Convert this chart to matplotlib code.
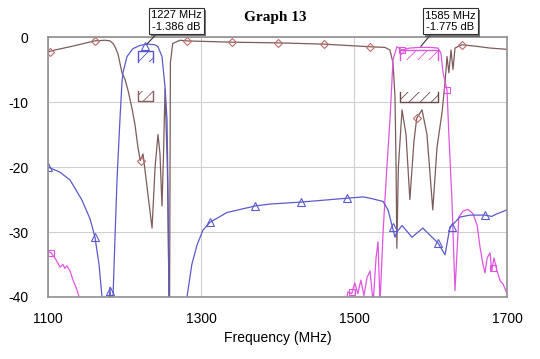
import matplotlib
matplotlib.use("Agg")
import matplotlib.pyplot as plt
from matplotlib.patches import Rectangle
import matplotlib.patheffects as pe

plt.rcParams['font.family'] = ['Liberation Sans', 'DejaVu Sans']
plt.rcParams['axes.unicode_minus'] = False

# blue trace (1227 MHz filter)
blue_f = [1100, 1115.7, 1128.8, 1144, 1155, 1161.4, 1166.7, 1170.6, 1174, 1178.4,
          1181, 1183.7, 1185, 1187.6, 1190.2, 1194, 1196.7, 1198, 1203.3, 1211,
          1220, 1229.4, 1240, 1243.8, 1249, 1253, 1255.6, 1257, 1258, 1260,
          1278, 1281.7, 1288, 1294.8, 1302.6, 1311.8, 1334, 1370.6, 1390, 1430.7,
          1490.9, 1511.8, 1521, 1538, 1544.5, 1549.7, 1553.6, 1556, 1562.8, 1575.8,
          1590, 1609.8, 1619, 1625.5, 1629.4, 1638.6, 1651.6, 1671, 1680, 1687, 1700]
blue_db = [-20.0, -20.8, -22, -25, -28, -30.8, -35, -40, -45, -45,
           -38.5, -45, -40, -30.8, -22, -12.8, -7, -5.5, -3, -1.8,
           -1.3, -1.1, -1.2, -1.5, -3, -7.7, -12.8, -25, -40, -45,
           -45, -40, -35, -32, -29.7, -28.5, -27, -26, -25.7, -25.4,
           -24.8, -24.6, -24.8, -25.3, -26.6, -29, -30.8, -30, -29, -30.8,
           -29.4, -31.7, -33.5, -29.2, -28.8, -27.7, -27.4, -27.4, -27.6, -27.2, -26.6]

# brown trace (reflection)
brown_f = [1100, 1109, 1128.8, 1161, 1174.5, 1181, 1185, 1187.6, 1191.5, 1194,
           1196.7, 1200.6, 1204.6, 1209.8, 1213.7, 1217.6, 1220.6, 1224.2, 1229.4, 1236,
           1240, 1243.8, 1246.4, 1249, 1251, 1253, 1256, 1258.8, 1260, 1263,
           1272.5, 1281.7, 1340.5, 1400.7, 1460.8, 1521, 1540.5, 1547, 1551, 1553.6,
           1555, 1556, 1558, 1562.8, 1568, 1573, 1578.4, 1582, 1588.9, 1595.4,
           1603, 1608.5, 1612.4, 1615, 1619, 1621.6, 1624, 1626.8, 1629.4, 1632,
           1641, 1658, 1677.8, 1700]
brown_db = [-2.3, -2.0, -1.5, -0.6, -0.5, -0.6, -1.0, -1.5, -2.6, -4,
            -5.5, -6.5, -8.2, -11, -13.5, -17, -19, -18, -23, -29.4,
            -20, -15, -18, -26, -18, -8, -20, -45, -4, -1,
            -0.5, -0.6, -0.8, -0.9, -1.1, -1.5, -1.6, -2.0, -4, -9.2,
            -20, -32.5, -20, -11.2, -15, -25, -16, -12.5, -11.2, -15,
            -26.6, -17, -13.8, -11.7, -7, -3, -5.5, -2, -5, -1.7,
            -1.2, -1.4, -1.7, -1.9]

# magenta trace (1585 MHz filter)
mag_f = [1100, 1104, 1109, 1113, 1115.7, 1119.6, 1122, 1124.8, 1128.8, 1132.7,
         1136.6, 1139.2, 1143, 1489.6, 1492, 1497, 1501, 1505, 1509, 1513,
         1517, 1521, 1525, 1528.8, 1531.4, 1534, 1538, 1540.5, 1543, 1547,
         1551, 1556, 1562.8, 1573, 1586, 1599, 1609.8, 1613.7, 1616.4, 1621.6,
         1624, 1628, 1632, 1634.7, 1637, 1642.5, 1649, 1655.6, 1661, 1664.7,
         1668.6, 1671.3, 1674, 1677.8, 1680, 1683, 1687, 1691, 1694.8, 1700]
mag_db = [-33, -33.2, -34, -34.8, -35.4, -35, -35.6, -35.2, -36, -37.4,
          -38.5, -39.4, -41, -41, -39.2, -39.5, -37.8, -39.5, -37.4, -39.8,
          -37, -36, -41, -34, -31.5, -41, -30, -25, -20, -12.8,
          -3.5, -1.5, -2.0, -1.7, -1.6, -1.6, -1.7, -2.5, -5.5, -8.2,
          -15, -25, -39, -33, -27.7, -26.8, -26.5, -27.2, -29, -32.3,
          -35, -36.3, -34, -33.2, -36, -34, -36, -37.5, -38, -39.4]

# marker positions
blue_mk_f = [1100.5, 1161, 1181, 1227, 1312, 1371, 1431, 1491, 1551, 1610, 1628, 1671]
blue_mk_db = [-20, -30.8, -39, -1.386, -28.5, -26, -25.4, -24.8, -29.3, -31.7, -29.2, -27.4]
brown_mk_f = [1102, 1162, 1221, 1282, 1341, 1401, 1461, 1521, 1582, 1641]
brown_mk_db = [-2.3, -0.6, -19, -0.6, -0.8, -0.9, -1.1, -1.5, -12.5, -1.2]
mag_mk_f = [1104, 1497, 1563, 1622, 1682]
mag_mk_db = [-33.2, -39.3, -2.0, -8.2, -35.5]

# spec masks: (f_start, f_end, limit line, hatch edge)
il_masks = [(1217, 1237, -2.2, -3.8, '#5555cc'), (1560, 1610, -2.0, -3.6, '#dd55dd')]
rl_masks = [(1217, 1237, -9.8, -8.3, '#8b5a5a'), (1560, 1610, -10.0, -8.5, '#6b4a4a')]

markers_text = [(1227, -1.386, "1227 MHz\n-1.386 dB", 1268, 2.5),
                (1585, -1.775, "1585 MHz\n-1.775 dB", 1626, 2.4)]

c_blue = '#5a5acd'
c_brown = '#7d5c5c'
c_mag = '#e055e0'

fig = plt.figure(figsize=(5.4, 3.59), dpi=100)
ax = fig.add_axes([48/540, 1-297/359, 459/540, 260/359])

ax.plot(brown_f, brown_db, color=c_brown, lw=0.9)
ax.plot(mag_f, mag_db, color=c_mag, lw=0.9)
ax.plot(blue_f, blue_db, color=c_blue, lw=0.9)

ax.plot(brown_mk_f, brown_mk_db, 'D', ms=4, mfc='none', mec='#c06a6a', mew=0.8, ls='none')
ax.plot(blue_mk_f, blue_mk_db, '^', ms=6, mfc='none', mec=c_blue, mew=0.8, ls='none')
ax.plot(mag_mk_f, mag_mk_db, 's', ms=5, mfc='none', mec=c_mag, mew=0.8, ls='none')

plt.rcParams['hatch.linewidth'] = 0.6
for f0, f1, d0, d1, col in il_masks + rl_masks:
    lo, hi = min(d0, d1), max(d0, d1)
    plt.rcParams['hatch.color'] = col
    ax.add_patch(Rectangle((f0, lo), f1 - f0, hi - lo, fill=False, hatch='///',
                           edgecolor=col, lw=0))
    # limit line plus the two side edges
    ax.plot([f0, f0, f1, f1], [d1, d0, d0, d1], color=col, lw=1)

for fx, dy, txt, tx, ty in markers_text:
    t = ax.annotate(txt, xy=(fx, dy), xytext=(tx, ty), textcoords='data',
                    fontsize=8, ha='center', va='center', annotation_clip=False,
                    bbox=dict(boxstyle='square,pad=0.2', fc='white', ec='#333333', lw=0.8),
                    arrowprops=dict(arrowstyle='-', color='#333333', lw=0.8,
                                    relpos=(0.15, 0.0), shrinkA=0, shrinkB=2))
    t.get_bbox_patch().set_path_effects([pe.withSimplePatchShadow(offset=(1.5, -1.5),
                                                                 shadow_rgbFace='#555555', alpha=0.8)])

ax.set_xlim(1100, 1700)
ax.set_ylim(-40, 0)
ax.set_xticks([1100, 1300, 1500, 1700])
ax.set_yticks([0, -10, -20, -30, -40])
ax.tick_params(length=0, labelsize=10)
ax.tick_params(axis='x', pad=11)
ax.tick_params(axis='y', pad=14)
ax.grid(True, color='#d0d0d0', lw=0.8)
ax.set_axisbelow(True)
for s in ax.spines.values():
    s.set_color('#909090')
    s.set_linewidth(1.2)

fig.text(278/540, 1-338/359, "Frequency (MHz)", ha='center', va='center', fontsize=10)
fig.text(275/540, 1-18/359, "Graph 13", ha='center', va='center', fontsize=11,
         fontweight='bold', family=['Liberation Serif', 'DejaVu Serif'])

fig.savefig("out.png", dpi=100)
